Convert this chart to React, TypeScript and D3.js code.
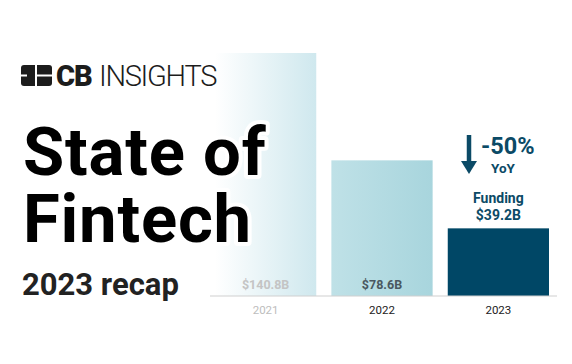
import React from 'react';
import * as d3 from 'd3';

const years = ['2021', '2022', '2023'];
const funding = [140.8, 78.6, 39.2];
const valueLabels = ['$140.8B', '$78.6B', '$39.2B'];
const changeLabel = '-50%';

const W = 572;
const H = 364;

export default function App() {
  const x = d3.scaleBand<string>().domain(years).range([215, 549]).paddingInner(0.13).paddingOuter(0);
  const y = d3.scaleLinear().domain([0, d3.max(funding) as number]).range([296, 53]);
  const bw = x.bandwidth();
  const base = y(0);
  const last = years.length - 1;
  const lastCx = (x(years[last]) as number) + bw / 2;
  const lastTop = y(funding[last]);

  const fills = ['url(#g2021)', 'url(#g2022)', '#004766'];
  const yearColors = ['#bdbdbd', '#222', '#222'];
  const valueColors = ['#c4c4c4', '#4a5860', 'none'];

  return (
    <svg width={W} height={H} style={{ position: 'absolute', left: 0, top: 0, background: '#fff' }}
      fontFamily="Roboto, 'Noto Sans', sans-serif">
      <defs>
        <linearGradient id="g2021" x1="0" x2="1" y1="0" y2="0">
          <stop offset="0" stopColor="#ffffff" />
          <stop offset="1" stopColor="#cfe8ee" />
        </linearGradient>
        <linearGradient id="g2022" x1="0" x2="1" y1="0" y2="0">
          <stop offset="0" stopColor="#bfe1e7" />
          <stop offset="1" stopColor="#a8d5dd" />
        </linearGradient>
      </defs>

      {years.map((yr, i) => (
        <rect key={yr} x={x(yr)} y={y(funding[i])} width={bw} height={base - y(funding[i])} fill={fills[i]} />
      ))}

      <line x1={210} x2={557} y1={base} y2={base} stroke="#d0d0d0" strokeWidth={1.2} />

      {years.map((yr, i) => (
        <text key={'t' + yr} x={(x(yr) as number) + bw / 2} y={314} textAnchor="middle" fontSize={11.5}
          fill={yearColors[i]}>{yr}</text>
      ))}

      {years.slice(0, last).map((yr, i) => (
        <text key={'v' + yr} x={(x(yr) as number) + bw / 2} y={289} textAnchor="middle" fontSize={12.5}
          fontWeight={700} fill={valueColors[i]}>{valueLabels[i]}</text>
      ))}

      {/* annotation above 2023 bar */}
      <text x={lastCx} y={lastTop - 25} textAnchor="middle" fontSize={14} fontWeight={700} fill="#0b4a66">Funding</text>
      <text x={lastCx} y={lastTop - 8} textAnchor="middle" fontSize={14} fontWeight={700} fill="#0b4a66">{valueLabels[last]}</text>
      <line x1={469} x2={469} y1={135} y2={162} stroke="#0b4a66" strokeWidth={4.5} />
      <path d="M461,161 L477,161 L469,174 Z" fill="#0b4a66" />
      <text x={481} y={154} fontSize={23.5} fontWeight={700} fill="#0b4a66">{changeLabel}</text>
      <text x={503} y={173} textAnchor="middle" fontSize={13.5} fontWeight={700} fill="#0b4a66">YoY</text>

      {/* logo */}
      <g fill="#1c1c1c">
        <rect x={21} y={65} width={31} height={21} rx={3} />
        <rect x={35} y={65} width={2} height={21} fill="#fff" />
        <rect x={35} y={74.5} width={17} height={2} fill="#fff" />
        <rect x={21} y={74.5} width={6} height={2} fill="#fff" />
        <text x={56} y={86} fontSize={29} fontWeight={900} letterSpacing={-1}>CB</text>
        <text x={99} y={86} fontSize={29} fontWeight={300} letterSpacing={-1.3}>INSIGHTS</text>
      </g>

      {/* title */}
      <g fontWeight={700} stroke="#fff" strokeWidth={8} strokeLinejoin="round" style={{ paintOrder: 'stroke' }}>
        <text x={23} y={175} fontSize={67} letterSpacing={0.8} fill="#000">State of</text>
        <text x={23} y={242} fontSize={67} letterSpacing={0.8} fill="#000">Fintech</text>
        <text x={22} y={295} fontSize={31} fill="#222">2023 recap</text>
      </g>
    </svg>
  );
}
